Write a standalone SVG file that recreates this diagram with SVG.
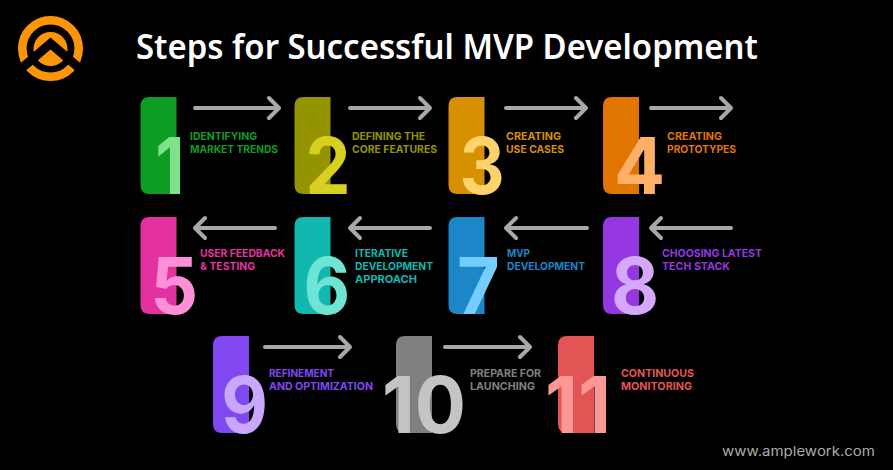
<svg xmlns="http://www.w3.org/2000/svg" width="893" height="470" viewBox="0 0 893 470">
<style>
.num{font-family:Inter,"Liberation Sans",sans-serif;font-weight:700;font-size:79px}
.lab{font-family:Inter,"Liberation Sans",sans-serif;font-weight:700;font-size:11px}
.arr{fill:none;stroke:#a8a8a8;stroke-width:4;stroke-linecap:round;stroke-linejoin:round}
</style>
<defs>
<path id="bar" d="M9 0H36V97H9Q0 97 0 88V9Q0 0 9 0Z"/>
</defs>
<rect width="893" height="470" fill="#000"/>
<g id="logo">
<circle cx="50.5" cy="48.5" r="28.2" fill="none" stroke="#ff9505" stroke-width="8.6"/>
<circle cx="50.5" cy="49" r="17" fill="#ff9505"/>
<polyline points="16,73 50.5,43.5 85,73" fill="none" stroke="#000" stroke-width="9"/>
</g>
<text id="title" x="136" y="59" font-family="'Noto Sans','Open Sans',sans-serif" font-weight="600" font-size="35" fill="#fff" textLength="622" lengthAdjust="spacingAndGlyphs">Steps for Successful MVP Development</text>
<g id="connectors" class="arr">
<path d="M195 108H279M269 98L279 108L269 118"/>
<path d="M350 108H430M420 98L430 108L420 118"/>
<path d="M506 108H586M576 98L586 108L576 118"/>
<path d="M651 108H731M721 98L731 108L721 118"/>
<path d="M275 228H195M205 218L195 228L205 238"/>
<path d="M430 228H350M360 218L350 228L360 238"/>
<path d="M587 228H506M516 218L506 228L516 238"/>
<path d="M731 228H651M661 218L651 228L661 238"/>
<path d="M265 347H350M340 337L350 347L340 357"/>
<path d="M445 347H530M520 337L530 347L520 357"/>
</g>
<g id="step1"><use href="#bar" x="140.5" y="97" fill="#0d9d25"/><text class="num" transform="translate(155.3 194) scale(.86 1)" fill="#7fe28a">1</text><g class="lab" fill="#0d9d25"><text x="190" y="140" textLength="67" lengthAdjust="spacingAndGlyphs">IDENTIFYING</text><text x="190" y="153" textLength="88" lengthAdjust="spacingAndGlyphs">MARKET TRENDS</text></g></g>
<g id="step2"><use href="#bar" x="294.5" y="97" fill="#949400"/><text class="num" transform="translate(305.4 194) scale(.905 1)" fill="#d8d020">2</text><g class="lab" fill="#949400"><text x="352" y="140" textLength="73" lengthAdjust="spacingAndGlyphs">DEFINING THE</text><text x="352" y="153" textLength="85" lengthAdjust="spacingAndGlyphs">CORE FEATURES</text></g></g>
<g id="step3"><use href="#bar" x="448.5" y="97" fill="#d69000"/><text class="num" transform="translate(459.5 194) scale(.886 1)" fill="#ffd36b">3</text><g class="lab" fill="#d69000"><text x="506" y="140" textLength="55" lengthAdjust="spacingAndGlyphs">CREATING</text><text x="506" y="153" textLength="58" lengthAdjust="spacingAndGlyphs">USE CASES</text></g></g>
<g id="step4"><use href="#bar" x="603" y="97" fill="#e07600"/><text class="num" transform="translate(614 194) scale(.957 1)" fill="#ffb066">4</text><g class="lab" fill="#e07600"><text x="667" y="140" textLength="55" lengthAdjust="spacingAndGlyphs">CREATING</text><text x="667" y="153" textLength="69" lengthAdjust="spacingAndGlyphs">PROTOTYPES</text></g></g>
<g id="step5"><use href="#bar" x="140.5" y="217" fill="#e332a0"/><text class="num" transform="translate(150.3 314) scale(.95 1)" fill="#ff8fd6">5</text><g class="lab" fill="#e332a0"><text x="200" y="257" textLength="85" lengthAdjust="spacingAndGlyphs">USER FEEDBACK</text><text x="200" y="270" textLength="55" lengthAdjust="spacingAndGlyphs">&amp; TESTING</text></g></g>
<g id="step6"><use href="#bar" x="294.5" y="217" fill="#10b8b0"/><text class="num" transform="translate(303.4 314) scale(.91 1)" fill="#6ee5d2">6</text><g class="lab" fill="#10b8b0"><text x="355" y="257" textLength="53" lengthAdjust="spacingAndGlyphs">ITERATIVE</text><text x="355" y="270" textLength="78" lengthAdjust="spacingAndGlyphs">DEVELOPMENT</text><text x="355" y="283" textLength="62" lengthAdjust="spacingAndGlyphs">APPROACH</text></g></g>
<g id="step7"><use href="#bar" x="448.5" y="217" fill="#1b86c8"/><text class="num" transform="translate(457 314) scale(.93 1)" fill="#74cdff">7</text><g class="lab" fill="#1b86c8"><text x="507" y="257" textLength="23" lengthAdjust="spacingAndGlyphs">MVP</text><text x="507" y="270" textLength="78" lengthAdjust="spacingAndGlyphs">DEVELOPMENT</text></g></g>
<g id="step8"><use href="#bar" x="603" y="217" fill="#9437e0"/><text class="num" transform="translate(611 314) scale(.935 1)" fill="#d5a8ff">8</text><g class="lab" fill="#9437e0"><text x="662" y="257" textLength="100" lengthAdjust="spacingAndGlyphs">CHOOSING LATEST</text><text x="662" y="270" textLength="68" lengthAdjust="spacingAndGlyphs">TECH STACK</text></g></g>
<g id="step9"><use href="#bar" x="213" y="336" fill="#8147f0"/><text class="num" transform="translate(221.3 433) scale(.91 1)" fill="#c9a6ff">9</text><g class="lab" fill="#8147f0"><text x="269" y="377" textLength="65" lengthAdjust="spacingAndGlyphs">REFINEMENT</text><text x="269" y="390" textLength="104" lengthAdjust="spacingAndGlyphs">AND OPTIMIZATION</text></g></g>
<g id="step10"><use href="#bar" x="396" y="336" fill="#808080"/><text class="num" x="382" y="433" fill="#c4c4c4" textLength="84" lengthAdjust="spacingAndGlyphs">10</text><g class="lab" fill="#808080"><text x="470" y="377" textLength="71" lengthAdjust="spacingAndGlyphs">PREPARE FOR</text><text x="470" y="390" textLength="65" lengthAdjust="spacingAndGlyphs">LAUNCHING</text></g></g>
<g id="step11"><use href="#bar" x="558" y="336" fill="#e25555"/><text class="num" x="545" y="433" fill="#ff9696" textLength="66" lengthAdjust="spacingAndGlyphs">11</text><g class="lab" fill="#e25555"><text x="621" y="377" textLength="73" lengthAdjust="spacingAndGlyphs">CONTINUOUS</text><text x="621" y="390" textLength="71" lengthAdjust="spacingAndGlyphs">MONITORING</text></g></g>
<text id="url" x="722" y="456" font-family="Inter,sans-serif" font-size="13.5" fill="#aaa" textLength="153" lengthAdjust="spacingAndGlyphs">www.amplework.com</text>
</svg>
